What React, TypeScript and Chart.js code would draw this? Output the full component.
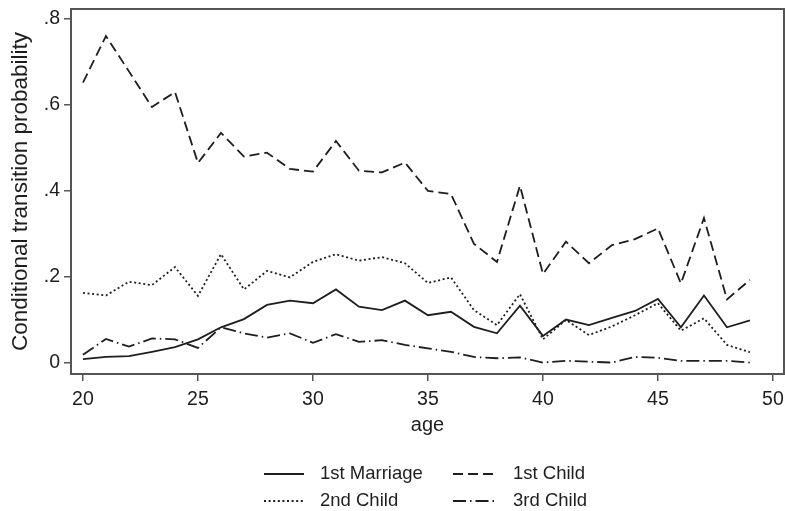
import React, { useEffect, useRef } from "react";
import { Chart, registerables } from "chart.js";

Chart.register(...registerables);

const ages = [20, 21, 22, 23, 24, 25, 26, 27, 28, 29, 30, 31, 32, 33, 34, 35, 36, 37, 38, 39, 40, 41, 42, 43, 44, 45, 46, 47, 48, 49];
const firstMarriage = [0.009, 0.014, 0.016, 0.026, 0.037, 0.055, 0.083, 0.102, 0.135, 0.145, 0.139, 0.171, 0.131, 0.123, 0.145, 0.111, 0.119, 0.084, 0.069, 0.133, 0.063, 0.101, 0.088, 0.105, 0.121, 0.149, 0.083, 0.157, 0.083, 0.099];
const firstChild = [0.652, 0.76, 0.678, 0.595, 0.63, 0.465, 0.535, 0.48, 0.489, 0.451, 0.445, 0.516, 0.447, 0.443, 0.466, 0.4, 0.393, 0.277, 0.235, 0.412, 0.207, 0.282, 0.232, 0.274, 0.288, 0.313, 0.185, 0.337, 0.148, 0.193];
const secondChild = [0.163, 0.157, 0.189, 0.181, 0.223, 0.156, 0.253, 0.171, 0.214, 0.199, 0.235, 0.253, 0.238, 0.246, 0.232, 0.186, 0.199, 0.123, 0.088, 0.16, 0.055, 0.1, 0.065, 0.085, 0.111, 0.139, 0.075, 0.104, 0.042, 0.025];
const thirdChild = [0.019, 0.056, 0.038, 0.057, 0.055, 0.035, 0.083, 0.069, 0.059, 0.069, 0.047, 0.067, 0.049, 0.053, 0.042, 0.034, 0.026, 0.014, 0.011, 0.013, 0.001, 0.005, 0.003, 0.001, 0.014, 0.012, 0.005, 0.005, 0.005, 0.001];

const xTicks = [20, 25, 30, 35, 40, 45, 50];
const yTicks = [0, 0.2, 0.4, 0.6, 0.8];
const yTickLabels = ["0", ".2", ".4", ".6", ".8"];

const seriesNames = ["1st Marriage", "1st Child", "2nd Child", "3rd Child"];
const seriesValues = [firstMarriage, firstChild, secondChild, thirdChild];
const seriesDashes: number[][] = [[], [10, 5], [2, 2.6], [13, 4, 1.5, 4]];

const FONT = "'Liberation Sans', Arial, sans-serif";
const INK = "#1e1e1e";
const FRAME = "#555555";

const zeroPadding = (s: any) => {
  s.paddingLeft = 0;
  s.paddingRight = 0;
  s.paddingTop = 0;
  s.paddingBottom = 0;
};

const framePlugin = {
  id: "frameAndLegend",
  afterDatasetsDraw(chart: any) {
    const { ctx, chartArea } = chart;
    ctx.save();
    ctx.strokeStyle = FRAME;
    ctx.lineWidth = 2;
    ctx.strokeRect(chartArea.left, chartArea.top, chartArea.right - chartArea.left, chartArea.bottom - chartArea.top);
    ctx.restore();
  },
  afterDraw(chart: any) {
    const { ctx } = chart;
    const cols = [
      { x0: 264, x1: 304, tx: 320 },
      { x0: 453, x1: 497, tx: 513 },
    ];
    const rows = [474, 501];
    ctx.save();
    ctx.font = `18.5px ${FONT}`;
    ctx.textBaseline = "middle";
    ctx.textAlign = "left";
    seriesNames.forEach((name, i) => {
      const c = cols[i % 2];
      const y = rows[Math.floor(i / 2)];
      ctx.strokeStyle = INK;
      ctx.lineWidth = 1.8;
      ctx.setLineDash(seriesDashes[i]);
      ctx.beginPath();
      ctx.moveTo(c.x0, y);
      ctx.lineTo(c.x1, y);
      ctx.stroke();
      ctx.setLineDash([]);
      ctx.fillStyle = INK;
      ctx.fillText(name, c.tx, y);
    });
    ctx.restore();
  },
};

export default function App() {
  const ref = useRef<HTMLCanvasElement | null>(null);
  useEffect(() => {
    if (!ref.current) return;
    document.body.style.margin = "0";
    const chart = new Chart(ref.current, {
      type: "line",
      data: {
        datasets: seriesNames.map((name, i) => ({
          label: name,
          data: ages.map((a, j) => ({ x: a, y: seriesValues[i][j] })),
          borderColor: INK,
          borderWidth: 1.8,
          borderDash: seriesDashes[i],
          pointRadius: 0,
          fill: false,
          tension: 0,
        })),
      },
      options: {
        animation: false,
        responsive: true,
        maintainAspectRatio: false,
        devicePixelRatio: 1,
        layout: { padding: { top: 9, right: 1, bottom: 70, left: 0 } },
        plugins: { legend: { display: false }, tooltip: { enabled: false } },
        scales: {
          x: {
            type: "linear",
            min: 19.48,
            max: 50.48,
            afterBuildTicks: (s: any) => {
              s.ticks = xTicks.map((v) => ({ value: v }));
            },
            afterFit: (s: any) => {
              s.height = 67;
              zeroPadding(s);
            },
            ticks: {
              color: INK,
              font: { size: 19.5, family: FONT },
              padding: 7,
              maxRotation: 0,
              autoSkip: false,
            },
            grid: { drawOnChartArea: false, drawTicks: true, tickLength: 7, color: FRAME, lineWidth: 1.5 },
            border: { display: false },
            title: { display: true, text: "age", color: INK, font: { size: 20, family: FONT }, padding: { top: 4, bottom: 4 } },
          },
          y: {
            type: "linear",
            min: -0.0256,
            max: 0.823,
            afterBuildTicks: (s: any) => {
              s.ticks = yTicks.map((v) => ({ value: v }));
            },
            afterFit: (s: any) => {
              s.width = 71;
              zeroPadding(s);
            },
            ticks: {
              color: INK,
              font: { size: 19.5, family: FONT },
              padding: 4,
              callback: (v: any) => {
                const idx = yTicks.findIndex((t) => Math.abs(t - Number(v)) < 1e-9);
                return idx >= 0 ? yTickLabels[idx] : "";
              },
            },
            grid: { drawOnChartArea: false, drawTicks: true, tickLength: 7, color: FRAME, lineWidth: 1.5 },
            border: { display: false },
            title: {
              display: true,
              text: "Conditional transition probability",
              color: INK,
              font: { size: 22.5, family: FONT },
              padding: { top: 7, bottom: 4 },
            },
          },
        },
      },
      plugins: [framePlugin],
    });
    return () => chart.destroy();
  }, []);
  return (
    <div style={{ position: "absolute", left: 0, top: 0, width: 785, height: 511, background: "#ffffff" }}>
      <canvas ref={ref} />
    </div>
  );
}
